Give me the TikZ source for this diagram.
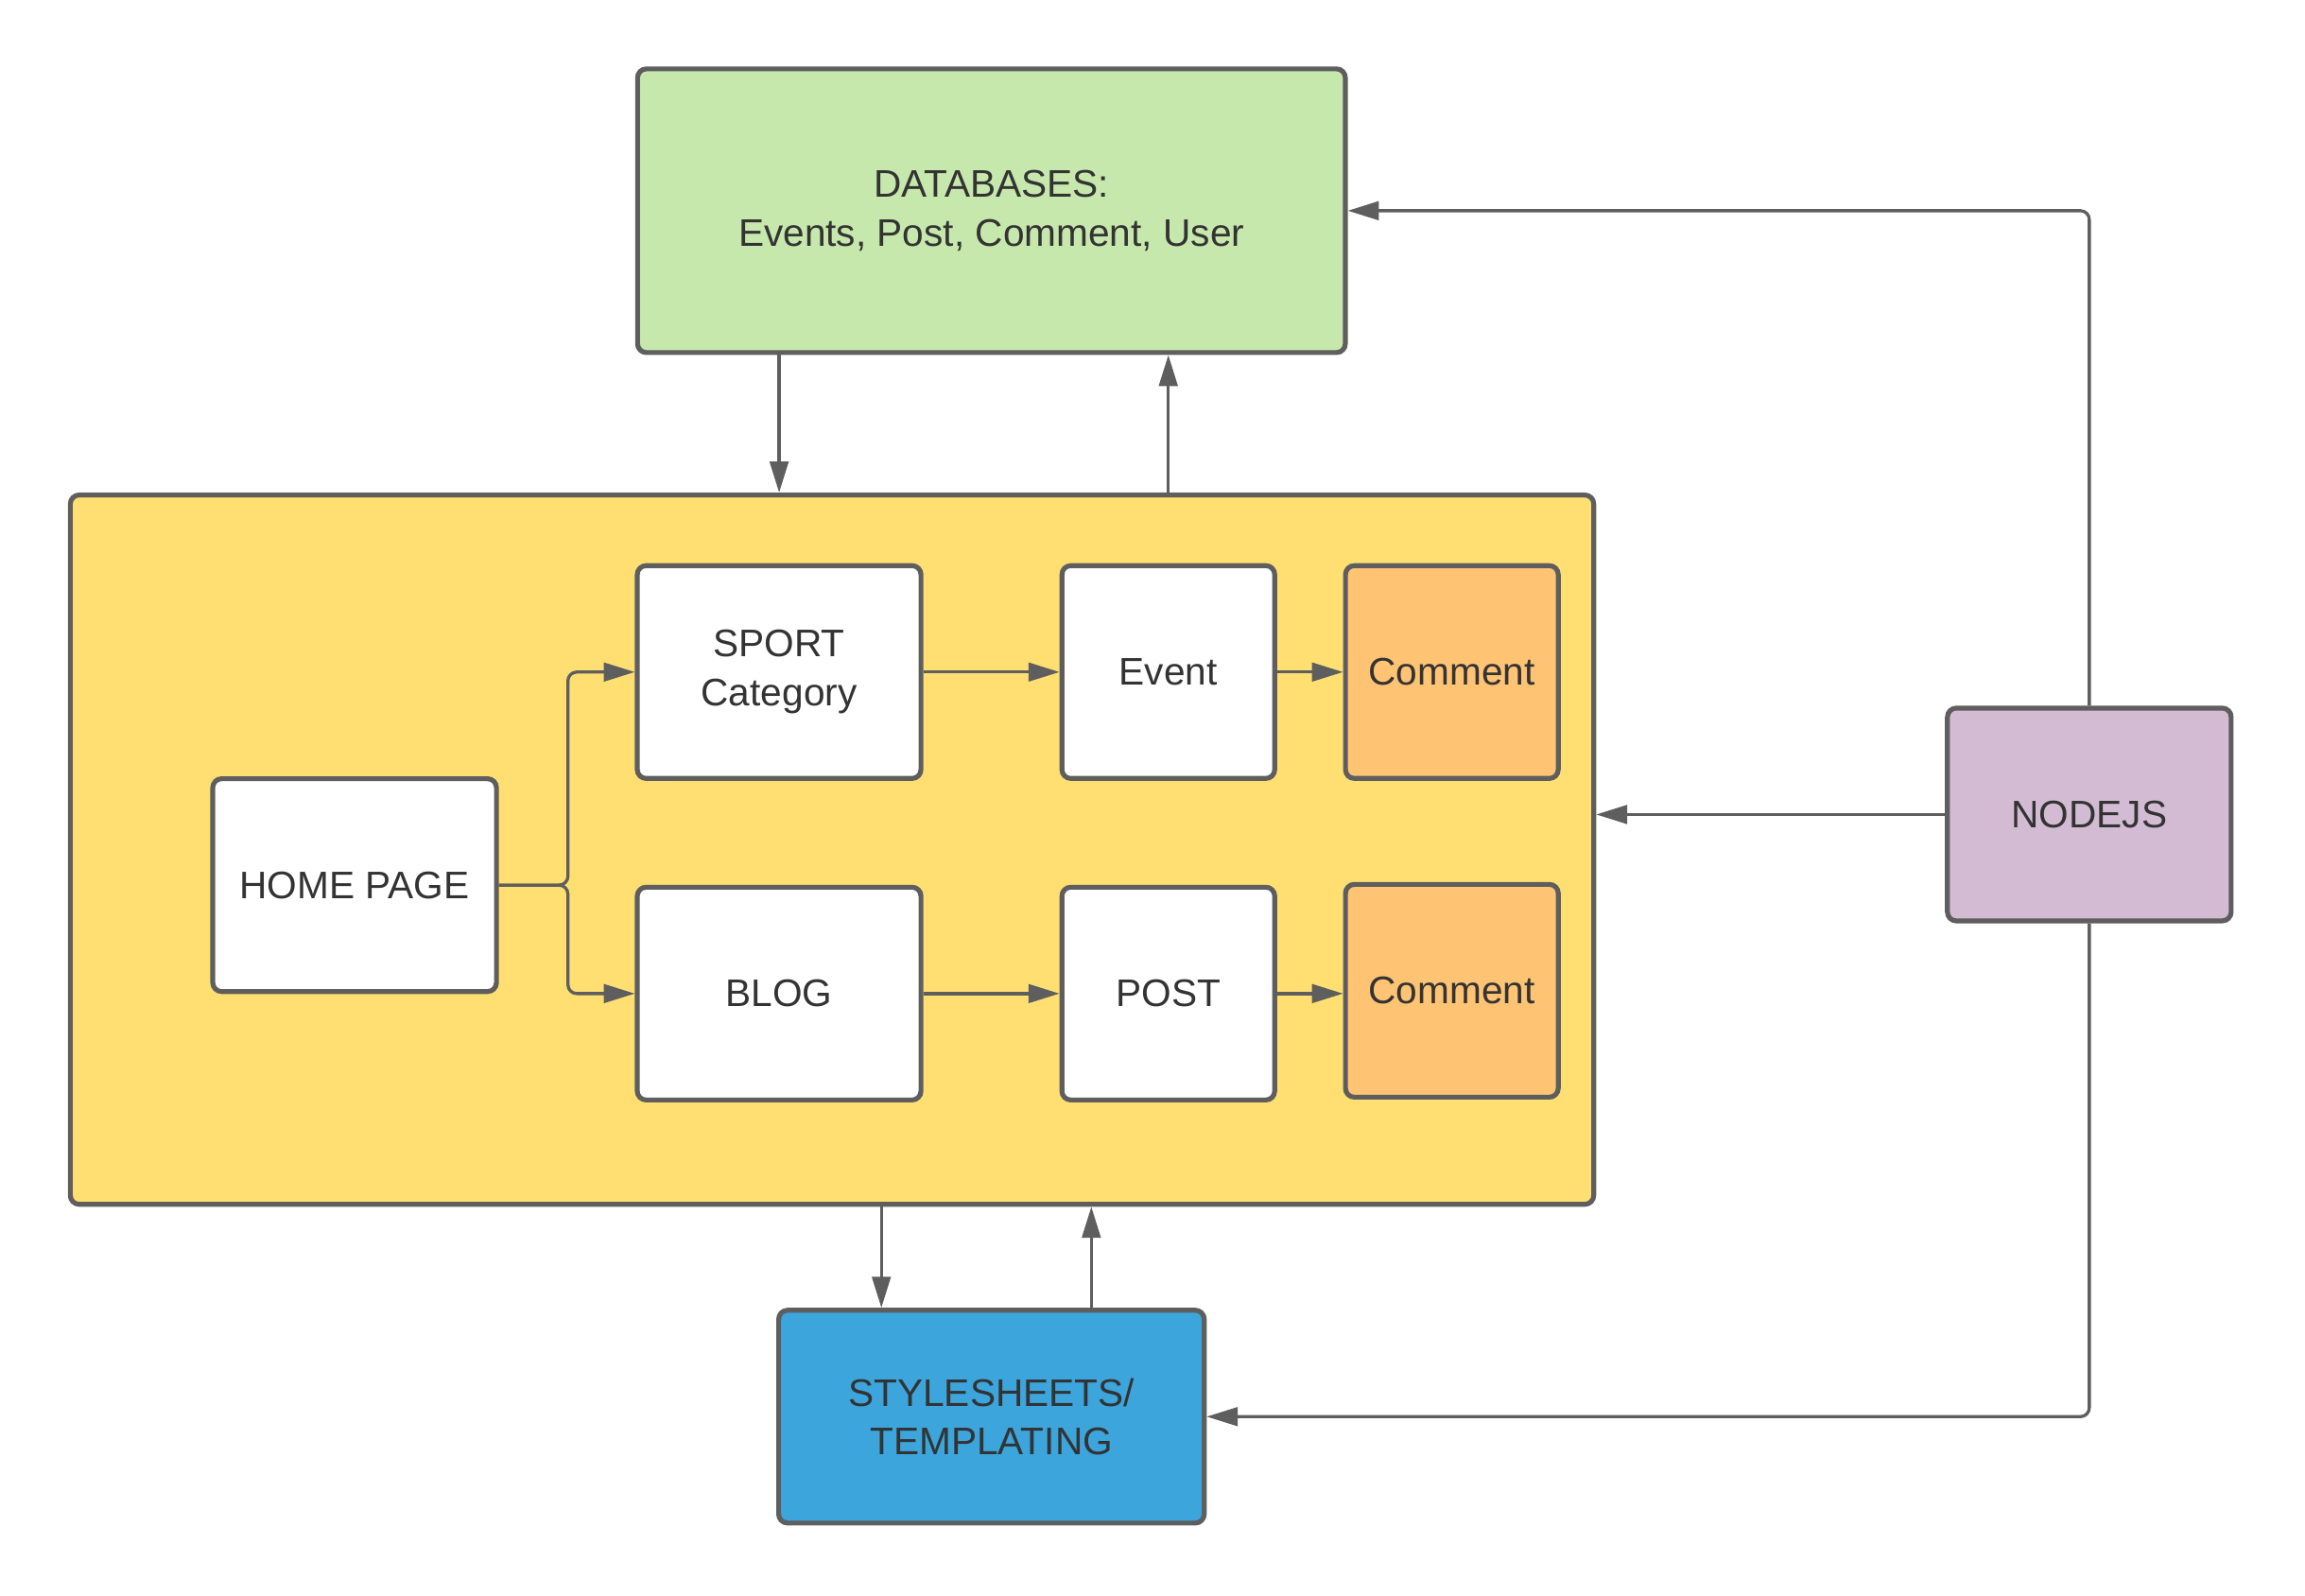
\documentclass[tikz,border=0pt]{standalone}
\usepackage{fontspec}
\setmainfont{Liberation Sans}
\usetikzlibrary{arrows.meta}
\definecolor{edge}{HTML}{5E5E5E}
\definecolor{txt}{HTML}{333333}
\definecolor{dbgreen}{HTML}{C7E8AC}
\definecolor{appyellow}{HTML}{FFDF71}
\definecolor{cmtorange}{HTML}{FFC374}
\definecolor{nodepurple}{HTML}{D3BCD3}
\definecolor{cssblue}{HTML}{3BA5DC}
\tikzset{
  block/.style={draw=edge, line width=3.3pt, rounded corners=6pt, fill=white, text=txt,
    align=center, inner sep=0pt, font=\fontsize{26}{33}\selectfont},
  link/.style={draw=edge, line width=2.1pt, -{Triangle[length=21pt,width=12.5pt]}, rounded corners=6pt},
}
\begin{document}
\begin{tikzpicture}[x=1pt,y=-1pt]
  \useasboundingbox (0,0) rectangle (1560,1080);
  \node[block, fill=dbgreen, minimum width=479pt, minimum height=192pt] (db) at (671,142.6) {DATABASES:\\Events, Post, Comment, User};
  \node[block, fill=appyellow, minimum width=1031pt, minimum height=480pt] (app) at (563.1,575) {};
  \node[block, minimum width=192pt, minimum height=144pt] (home) at (240,599) {HOME PAGE};
  \node[block, minimum width=192pt, minimum height=144pt] (sport) at (527.3,454.8) {SPORT\\Category};
  \node[block, minimum width=192pt, minimum height=144pt] (blog) at (527.3,672.4) {BLOG};
  \node[block, minimum width=144pt, minimum height=144pt] (event) at (790.7,454.8) {Event};
  \node[block, minimum width=144pt, minimum height=144pt] (post) at (790.7,672.4) {POST};
  \node[block, fill=cmtorange, minimum width=144pt, minimum height=144pt] (cmtA) at (982.6,454.8) {Comment};
  \node[block, fill=cmtorange, minimum width=144pt, minimum height=144pt] (cmtB) at (982.6,670.5) {Comment};
  \node[block, fill=nodepurple, minimum width=192pt, minimum height=144pt] (nodejs) at (1414,551.2) {NODEJS};
  \node[block, fill=cssblue, minimum width=288pt, minimum height=144pt] (css) at (671,958.7) {STYLESHEETS/\\TEMPLATING};
  % database <-> app
  \draw[link] (db.south -| sport.center) -- (app.north -| sport.center);
  \draw[link] (app.north -| event.center) -- (db.south -| event.center);
  % app <-> stylesheets
  \draw[link] ([xshift=-74.5pt]css.north |- app.south) -- ([xshift=-74.5pt]css.north);
  \draw[link] ([xshift=67.6pt]css.north) -- ([xshift=67.6pt]css.north |- app.south);
  % nodejs
  \draw[link] (nodejs.west) -- (nodejs.west -| app.east);
  \draw[link] (nodejs.north) |- (db.east);
  \draw[link] (nodejs.south) |- (css.east);
  % pages
  \draw[link] (home.east) -- ++(46.7,0) |- (sport.west);
  \draw[link] (home.east) -- ++(46.7,0) |- (blog.west);
  \draw[link] (sport) -- (event);
  \draw[link] (blog) -- (post);
  \draw[link] (event) -- (cmtA);
  \draw[link] (post.east) -- (post.east -| cmtB.west);
\end{tikzpicture}
\end{document}
